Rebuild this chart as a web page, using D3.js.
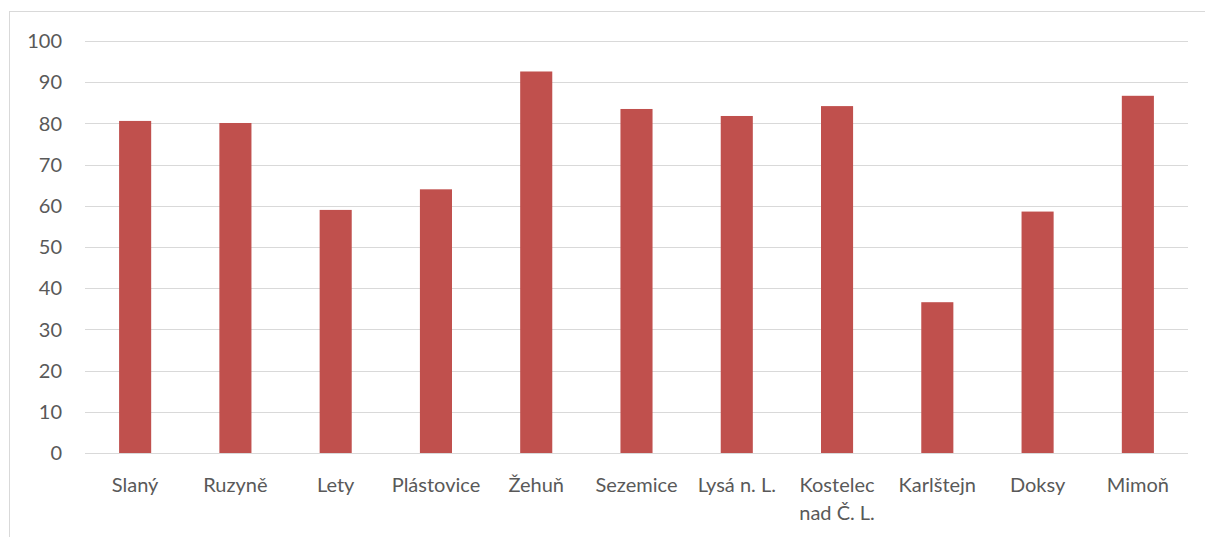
<!DOCTYPE html>
<html lang="cs">
<head>
<meta charset="utf-8">
<title>Sloupcový graf</title>
<script src="https://cdnjs.cloudflare.com/ajax/libs/d3/7.8.5/d3.min.js"></script>
<style>
  body { margin: 0; background: #fff; }
  text { font-family: Lato, "Open Sans", sans-serif; fill: #595959; }
</style>
</head>
<body>
<script>
// data
var categories = ["Slaný", "Ruzyně", "Lety", "Plástovice", "Žehuň", "Sezemice", "Lysá n. L.", "Kostelec nad Č. L.", "Karlštejn", "Doksy", "Mimoň"];
var values = [80.6, 80.1, 59.0, 64.0, 92.6, 83.5, 81.8, 84.2, 36.6, 58.6, 86.7];
var yTicks = [0, 10, 20, 30, 40, 50, 60, 70, 80, 90, 100];
// label line breaks as in the original
var labelLines = { "Kostelec nad Č. L.": ["Kostelec", "nad Č. L."] };

var w = 1205, h = 537;
var margin = { top: 41, right: 17, bottom: 84, left: 85 };

var svg = d3.select("body").append("svg")
    .attr("width", w)
    .attr("height", h);

// chart area frame
svg.append("rect")
    .attr("x", 9.5).attr("y", 11.5)
    .attr("width", w + 20).attr("height", h + 20)
    .attr("fill", "none")
    .attr("stroke", "#d9d9d9")
    .attr("stroke-width", 1);

var x = d3.scaleBand()
    .domain(categories)
    .range([margin.left, w - margin.right])
    .paddingInner(0.68)
    .paddingOuter(0.34);

var y = d3.scaleLinear()
    .domain([0, 100])
    .range([h - margin.bottom, margin.top]);

// gridlines
svg.append("g")
    .selectAll("line")
    .data(yTicks)
    .enter()
    .append("line")
    .attr("x1", margin.left)
    .attr("x2", w - margin.right)
    .attr("y1", function(d) { return Math.round(y(d)) + 0.5; })
    .attr("y2", function(d) { return Math.round(y(d)) + 0.5; })
    .attr("stroke", "#d9d9d9")
    .attr("stroke-width", 1);

// y tick labels
svg.append("g")
    .selectAll("text")
    .data(yTicks)
    .enter()
    .append("text")
    .attr("x", 62)
    .attr("y", function(d) { return y(d); })
    .attr("dy", "0.36em")
    .attr("text-anchor", "end")
    .style("font-size", "20px")
    .text(function(d) { return d; });

// bars
svg.append("g")
    .selectAll("rect")
    .data(values)
    .enter()
    .append("rect")
    .attr("x", function(d, i) { return x(categories[i]); })
    .attr("y", function(d) { return y(d); })
    .attr("width", x.bandwidth())
    .attr("height", function(d) { return y(0) - y(d); })
    .attr("fill", "#c0504d");

// category labels
var labels = svg.append("g")
    .selectAll("text")
    .data(categories)
    .enter()
    .append("text")
    .attr("text-anchor", "middle")
    .attr("x", function(d) { return x(d) + x.bandwidth() / 2; })
    .attr("y", 492)
    .style("font-size", "20px");

labels.each(function(d) {
    var lines = labelLines[d] || [d];
    var t = d3.select(this);
    lines.forEach(function(line, k) {
        t.append("tspan")
            .attr("x", x(d) + x.bandwidth() / 2)
            .attr("dy", k === 0 ? 0 : 28)
            .text(line);
    });
});
</script>
</body>
</html>
